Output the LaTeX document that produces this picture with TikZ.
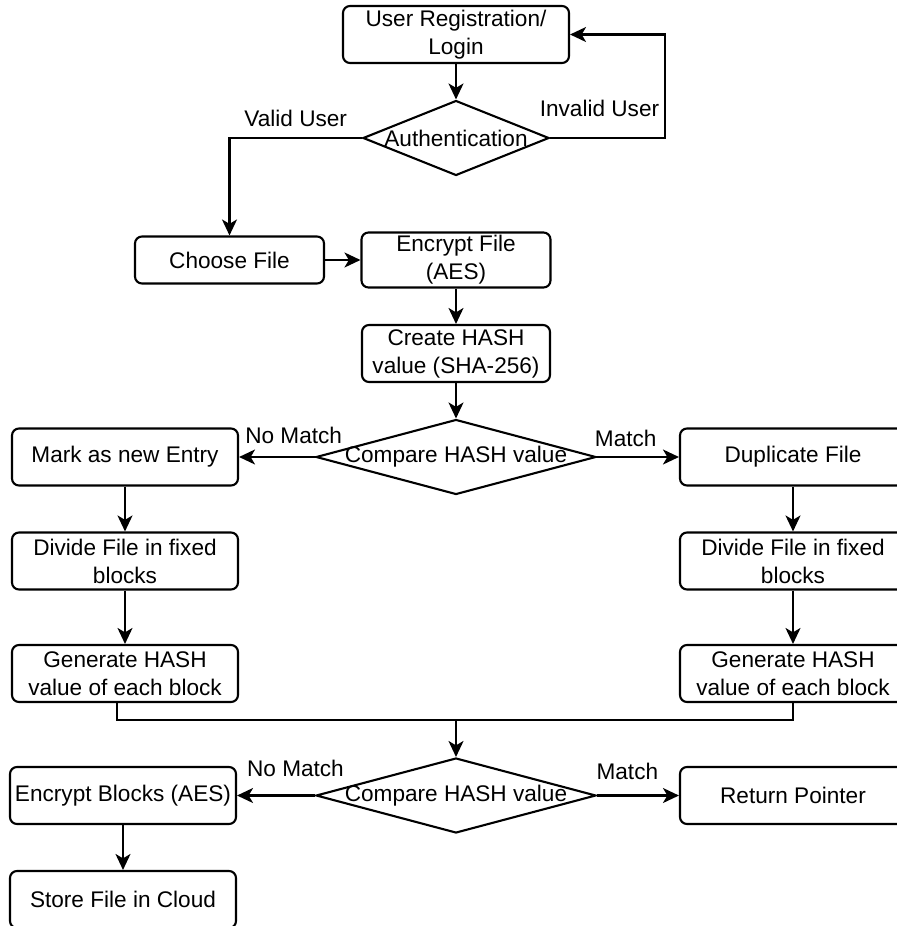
\documentclass[tikz,border=0pt]{standalone}
\usepackage{fontspec}
\setmainfont{Liberation Sans}
\usepackage{tikz}
\usetikzlibrary{shapes.geometric,arrows.meta}

\newcommand{\flowfont}{\fontsize{11.3}{14}\selectfont}

\tikzset{
  box/.style={draw, rounded corners=3.5pt, line width=1.05pt, align=center, inner sep=0pt,
    minimum width=113pt, minimum height=28.5pt, font=\flowfont},
  decision/.style={draw, diamond, line width=1.05pt, inner sep=0pt,
    minimum width=140pt, minimum height=37.5pt, font=\flowfont},
  flow/.style={line width=1.05pt, -{Stealth[length=8pt,width=7.5pt,inset=2.2pt]}},
  lbl/.style={font=\flowfont, inner sep=1pt}
}

\begin{document}
\begin{tikzpicture}[x=0.5pt, y=-0.5pt]
\useasboundingbox (0,0) rectangle (896,926);

% Login and check
\node[box] (reg) at (456,34.5) {User Registration/\\Login};
\node[decision, minimum width=93pt] (auth) at (456,138) {\makebox[0pt]{Authentication}};
\node[box, minimum width=94.5pt, minimum height=23.5pt] (choose) at (229.5,260) {Choose File};
\node[box, minimum width=94.5pt, minimum height=27.5pt] (enc) at (456,260) {Encrypt File\\(AES)};
\node[box, minimum width=94pt] (hash) at (456,353.5) {Create HASH\\value (SHA-256)};
\node[decision] (cmpfile) at (456,457) {\makebox[0pt]{Compare HASH value}};

% Left and right branches
\node[box] (mark) at (125,457) {Mark as new Entry};
\node[box] (divL) at (125,561) {Divide File in fixed\\blocks};
\node[box] (genL) at (125,673.5) {Generate HASH\\value of each block};
\node[box] (dup) at (793,457) {Duplicate File};
\node[box] (divR) at (793,561) {Divide File in fixed\\blocks};
\node[box] (genR) at (793,673.5) {Generate HASH\\value of each block};

% Block check
\node[decision] (cmpblk) at (456,795.5) {\makebox[0pt]{Compare HASH value}};
\node[box] (encblk) at (123,795.5) {Encrypt Blocks (AES)};
\node[box] (ret) at (793,795.5) {Return Pointer};
\node[box] (store) at (123,899.5) {Store File in Cloud};

\coordinate (back) at (665,34.5);
\coordinate (join) at (456,720);

% Connectors
\draw[flow] (reg) -- (auth);
\draw[flow] (auth.west) -| (choose.north) node[lbl, pos=0.25, above=3.9pt] {Valid User};
\draw[flow] (auth.east) -| (back) node[lbl, pos=0.215, above=8.9pt] {Invalid User} -- (reg.east);
\draw[flow] (choose) -- (enc);
\draw[flow] (enc) -- (hash);
\draw[flow] (hash) -- (cmpfile);
\draw[flow] (cmpfile.west) -- (mark.east) node[lbl, pos=0.28, above=5.2pt] {No Match};
\draw[flow] (cmpfile.east) -- (dup.west) node[lbl, pos=0.35, above=3.8pt] {Match};
\draw[flow] (mark) -- (divL);
\draw[flow] (divL) -- (genL);
\draw[flow] (dup) -- (divR);
\draw[flow] (divR) -- (genR);
\draw[line width=1.05pt] ([xshift=-4pt]genL.south) |- (join);
\draw[line width=1.05pt] (genR.south) |- (join);
\draw[flow] (join) -- (cmpblk.north);
\draw[flow] (cmpblk.west) -- (encblk.east) node[lbl, pos=0.25, above=8pt] {No Match};
\draw[flow] (cmpblk.east) -- (ret.west) node[lbl, pos=0.37, above=6.6pt] {Match};
\draw[flow] (encblk) -- (store);

\end{tikzpicture}
\end{document}
